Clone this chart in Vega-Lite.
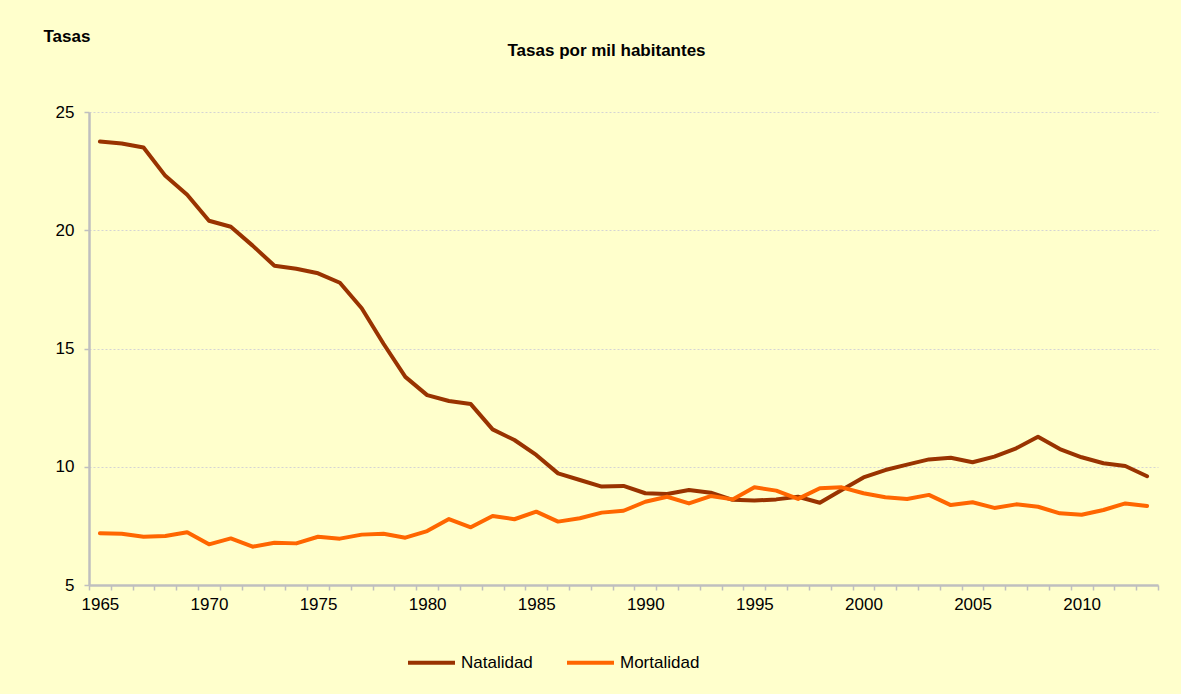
{
  "$schema": "https://vega.github.io/schema/vega-lite/v6.json",
  "autosize": "none",
  "width": 1069,
  "height": 473,
  "padding": {"left": 89, "top": 112, "right": 23, "bottom": 109},
  "background": "#FFFFCC",
  "config": {
    "font": "Liberation Sans",
    "view": {"stroke": null},
    "axis": {"labelFont": "Liberation Sans", "labelFontSize": 17, "labelColor": "#000000"}
  },
  "title": {
    "text": "Tasas por mil habitantes",
    "fontSize": 17,
    "fontWeight": "bold",
    "color": "#000000",
    "anchor": "middle",
    "frame": "group",
    "baseline": "alphabetic",
    "offset": -46,
    "dx": -17
  },
  "data": {
    "values": [
      {"Año": 1965, "Natalidad": 23.75, "Mortalidad": 7.19},
      {"Año": 1966, "Natalidad": 23.67, "Mortalidad": 7.17},
      {"Año": 1967, "Natalidad": 23.5, "Mortalidad": 7.04},
      {"Año": 1968, "Natalidad": 22.3, "Mortalidad": 7.07},
      {"Año": 1969, "Natalidad": 21.5, "Mortalidad": 7.23},
      {"Año": 1970, "Natalidad": 20.4, "Mortalidad": 6.72},
      {"Año": 1971, "Natalidad": 20.15, "Mortalidad": 6.97},
      {"Año": 1972, "Natalidad": 19.35, "Mortalidad": 6.62},
      {"Año": 1973, "Natalidad": 18.5, "Mortalidad": 6.79},
      {"Año": 1974, "Natalidad": 18.37, "Mortalidad": 6.76},
      {"Año": 1975, "Natalidad": 18.18, "Mortalidad": 7.04},
      {"Año": 1976, "Natalidad": 17.78, "Mortalidad": 6.96},
      {"Año": 1977, "Natalidad": 16.7, "Mortalidad": 7.13},
      {"Año": 1978, "Natalidad": 15.2, "Mortalidad": 7.17},
      {"Año": 1979, "Natalidad": 13.8, "Mortalidad": 7.0},
      {"Año": 1980, "Natalidad": 13.03, "Mortalidad": 7.28},
      {"Año": 1981, "Natalidad": 12.78, "Mortalidad": 7.79},
      {"Año": 1982, "Natalidad": 12.65, "Mortalidad": 7.44},
      {"Año": 1983, "Natalidad": 11.58, "Mortalidad": 7.92},
      {"Año": 1984, "Natalidad": 11.13, "Mortalidad": 7.78},
      {"Año": 1985, "Natalidad": 10.5, "Mortalidad": 8.1},
      {"Año": 1986, "Natalidad": 9.72, "Mortalidad": 7.68},
      {"Año": 1987, "Natalidad": 9.44, "Mortalidad": 7.82},
      {"Año": 1988, "Natalidad": 9.16, "Mortalidad": 8.06},
      {"Año": 1989, "Natalidad": 9.19, "Mortalidad": 8.14},
      {"Año": 1990, "Natalidad": 8.88, "Mortalidad": 8.52},
      {"Año": 1991, "Natalidad": 8.85, "Mortalidad": 8.73},
      {"Año": 1992, "Natalidad": 9.02, "Mortalidad": 8.45},
      {"Año": 1993, "Natalidad": 8.9, "Mortalidad": 8.76},
      {"Año": 1994, "Natalidad": 8.6, "Mortalidad": 8.62},
      {"Año": 1995, "Natalidad": 8.57, "Mortalidad": 9.13},
      {"Año": 1996, "Natalidad": 8.62, "Mortalidad": 8.99},
      {"Año": 1997, "Natalidad": 8.73, "Mortalidad": 8.64},
      {"Año": 1998, "Natalidad": 8.48, "Mortalidad": 9.09},
      {"Año": 1999, "Natalidad": 9.02, "Mortalidad": 9.13},
      {"Año": 2000, "Natalidad": 9.55, "Mortalidad": 8.88},
      {"Año": 2001, "Natalidad": 9.86, "Mortalidad": 8.71},
      {"Año": 2002, "Natalidad": 10.09, "Mortalidad": 8.64},
      {"Año": 2003, "Natalidad": 10.31, "Mortalidad": 8.81},
      {"Año": 2004, "Natalidad": 10.38, "Mortalidad": 8.38},
      {"Año": 2005, "Natalidad": 10.19, "Mortalidad": 8.5},
      {"Año": 2006, "Natalidad": 10.43, "Mortalidad": 8.26},
      {"Año": 2007, "Natalidad": 10.78, "Mortalidad": 8.41},
      {"Año": 2008, "Natalidad": 11.27, "Mortalidad": 8.31},
      {"Año": 2009, "Natalidad": 10.75, "Mortalidad": 8.03},
      {"Año": 2010, "Natalidad": 10.4, "Mortalidad": 7.97},
      {"Año": 2011, "Natalidad": 10.15, "Mortalidad": 8.17},
      {"Año": 2012, "Natalidad": 10.03, "Mortalidad": 8.45},
      {"Año": 2013, "Natalidad": 9.6, "Mortalidad": 8.34}
    ]
  },
  "transform": [
    {"fold": ["Natalidad", "Mortalidad"], "as": ["Serie", "Tasa"]}
  ],
  "mark": {"type": "line", "strokeWidth": 4, "strokeCap": "round", "strokeJoin": "round"},
  "encoding": {
    "x": {
      "field": "Año",
      "type": "quantitative",
      "scale": {"domain": [1964.5, 2013.5], "nice": false, "zero": false},
      "axis": {
        "title": null,
        "values": [1964.5,1965.5,1966.5,1967.5,1968.5,1969.5,1970.5,1971.5,1972.5,1973.5,1974.5,1975.5,1976.5,1977.5,1978.5,1979.5,1980.5,1981.5,1982.5,1983.5,1984.5,1985.5,1986.5,1987.5,1988.5,1989.5,1990.5,1991.5,1992.5,1993.5,1994.5,1995.5,1996.5,1997.5,1998.5,1999.5,2000.5,2001.5,2002.5,2003.5,2004.5,2005.5,2006.5,2007.5,2008.5,2009.5,2010.5,2011.5,2012.5,2013.5],
        "labelExpr": "(datum.value + 0.5) % 5 == 0 ? format(datum.value + 0.5, 'd') : ''",
        "labelOffset": 10.9,
        "labelOverlap": false,
        "labelFlush": false,
        "labelPadding": 6,
        "domainColor": "#BFBFBF",
        "domainWidth": 2.5,
        "tickColor": "#BFBFBF",
        "tickWidth": 1.5,
        "tickSize": 5,
        "grid": false
      }
    },
    "y": {
      "field": "Tasa",
      "type": "quantitative",
      "scale": {"domain": [5, 25], "nice": false, "zero": false},
      "axis": {
        "values": [5, 10, 15, 20, 25],
        "title": "Tasas",
        "titleAngle": 0,
        "titleX": -46,
        "titleY": -71,
        "titleAlign": "left",
        "titleBaseline": "alphabetic",
        "titleFontSize": 17,
        "titleFontWeight": "bold",
        "titleColor": "#000000",
        "labelPadding": 10,
        "domainColor": "#BFBFBF",
        "domainWidth": 2.5,
        "tickColor": "#BFBFBF",
        "tickWidth": 1.5,
        "tickSize": 5,
        "grid": true,
        "gridColor": "#D4D4D4",
        "gridDash": [2, 2],
        "gridWidth": 1
      }
    },
    "color": {
      "field": "Serie",
      "type": "nominal",
      "scale": {"domain": ["Natalidad", "Mortalidad"], "range": ["#993300", "#FF6600"]},
      "legend": {
        "title": null,
        "orient": "none",
        "direction": "horizontal",
        "legendX": 317,
        "legendY": 525,
        "symbolType": "stroke",
        "symbolStrokeWidth": 4,
        "symbolSize": 2209,
        "labelFont": "Liberation Sans",
        "labelFontSize": 17,
        "labelColor": "#000000",
        "labelOffset": 4,
        "columnPadding": 26
      }
    }
  }
}
